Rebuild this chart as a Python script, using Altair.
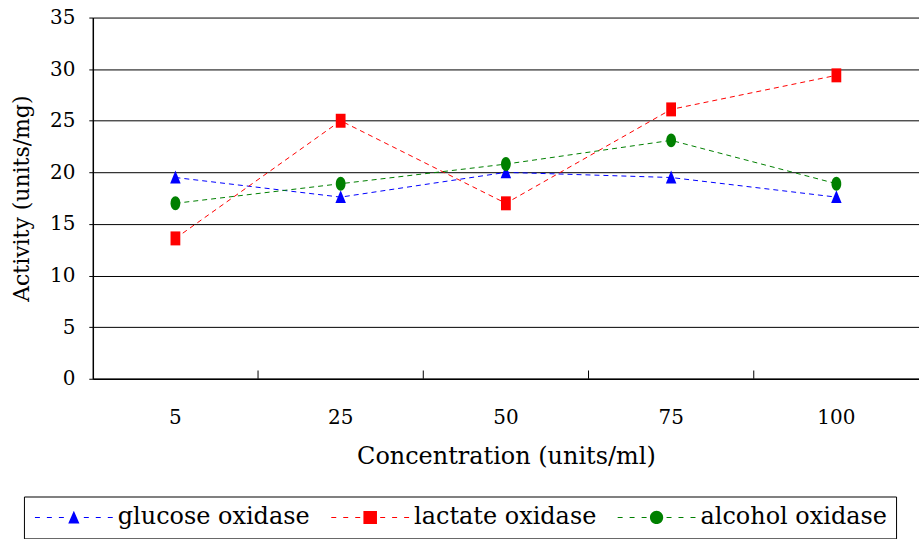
import altair as alt
import pandas as pd

concentration = ["5", "25", "50", "75", "100"]
series_names = ["glucose oxidase", "lactate oxidase", "alcohol oxidase"]
glucose = [19.5, 17.6, 20.0, 19.5, 17.6]
lactate = [13.6, 25.0, 17.0, 26.1, 29.4]
alcohol = [17.0, 18.9, 20.8, 23.1, 18.9]
colors = ["#0000FF", "#FF0000", "#008000"]
y_ticks = [0, 5, 10, 15, 20, 25, 30, 35]

rows = []
for name, vals in zip(series_names, [glucose, lactate, alcohol]):
    for c, v in zip(concentration, vals):
        rows.append({"conc": c, "series": name, "activity": v})
df = pd.DataFrame(rows)
bounds = pd.DataFrame({"conc": concentration[1:]})

FONT = "DejaVu Serif"

# marker shapes for the plot (unit paths)
tri = "M0,-1L0.75,0.85L-0.75,0.85Z"
sq = "M-0.7,-1H0.7V1H-0.7Z"
circ = "M0.7,0A0.7,1,0,1,1,-0.7,0A0.7,1,0,1,1,0.7,0Z"
plot_shapes = [tri, sq, circ]

# legend symbols: dashed line drawn as thin filled bars + marker
dash = ""
for s in [-5.57, -3.86, -2.14, 1.43, 3.14, 4.86]:
    dash += "M%.2f,-0.075H%.2fV0.075H%.2fZ" % (s, s + 0.71, s)
leg_tri = "M0,-0.95L0.8,0.85L-0.8,0.85Z"
leg_sq = "M-0.97,-0.93H0.97V0.93H-0.97Z"
leg_circ = "M0.95,0A0.95,0.95,0,1,1,-0.95,0A0.95,0.95,0,1,1,0.95,0Z"
leg_shapes = [dash + leg_tri, dash + leg_sq, dash + leg_circ]
shape_expr = (
    f"datum.value === '{series_names[0]}' ? '{leg_shapes[0]}' : "
    f"datum.value === '{series_names[1]}' ? '{leg_shapes[1]}' : '{leg_shapes[2]}'"
)
color_expr = "scale('color', datum.value)"

x_enc = alt.X(
    "conc:N",
    sort=concentration,
    scale=alt.Scale(domain=concentration, paddingInner=0, paddingOuter=0),
    axis=alt.Axis(
        title="Concentration (units/ml)",
        ticks=False,
        labelAngle=0,
        labelFont=FONT,
        labelFontSize=20,
        labelColor="#000",
        labelPadding=29,
        titleFont=FONT,
        titleFontSize=24,
        titleFontWeight="normal",
        titleColor="#000",
        titlePadding=17,
        domainColor="#000",
        domainWidth=1.5,
        grid=False,
    ),
)
y_enc = alt.Y(
    "activity:Q",
    scale=alt.Scale(domain=[0, 35], nice=False, zero=True),
    axis=alt.Axis(
        values=y_ticks,
        title="Activity (units/mg)",
        grid=True,
        gridColor="#000",
        gridWidth=1,
        tickColor="#000",
        tickSize=4,
        labelFont=FONT,
        labelFontSize=20,
        labelColor="#000",
        labelPadding=14,
        titleFont=FONT,
        titleFontSize=22,
        titleFontWeight="normal",
        titleColor="#000",
        titlePadding=16,
        domainColor="#000",
        domainWidth=1.5,
    ),
)

color_scale = alt.Scale(domain=series_names, range=colors)
legend = alt.Legend(
    title=None,
    orient="none",
    legendX=-69,
    legendY=480,
    direction="horizontal",
    columns=3,
    strokeColor="#000",
    fillColor="#fff",
    padding=9,
    columnPadding=19,
    symbolSize=196,
    symbolOffset=29,
    labelOffset=32,
    labelFont=FONT,
    labelFontSize=24,
    labelColor="#000",
    labelLimit=400,
    symbolType=alt.ExprRef(expr=shape_expr),
    symbolFillColor=alt.ExprRef(expr=color_expr),
    symbolStrokeColor=alt.ExprRef(expr=color_expr),
    symbolStrokeWidth=0,
    symbolOpacity=1,
)
color_enc = alt.Color("series:N", scale=color_scale, legend=legend)

lines = alt.Chart(df).mark_line(strokeDash=[5, 4], strokeWidth=1).encode(
    x=x_enc,
    y=y_enc,
    color=color_enc,
    detail="series:N",
)

point_layers = []
for name, shp in zip(series_names, plot_shapes):
    point_layers.append(
        alt.Chart(df)
        .transform_filter(alt.datum.series == name)
        .mark_point(filled=True, size=196, opacity=1, shape=shp)
        .encode(x=x_enc, y=y_enc, color=color_enc)
    )

ticks = alt.Chart(bounds).mark_rule(color="#000", strokeWidth=1).encode(
    x=alt.X("conc:N", sort=concentration, bandPosition=0),
    y=alt.datum(0),
    y2=alt.datum(0.8),
)

chart = (
    alt.layer(lines, *point_layers, ticks)
    .properties(
        width=828,
        height=362,
        autosize=alt.AutoSizeParams(type="none"),
        padding={"left": 93, "top": 17, "right": 0, "bottom": 160},
    )
    .configure_view(stroke=None)
)

chart.save("out.html", embed_options={"renderer": "svg", "actions": False})
